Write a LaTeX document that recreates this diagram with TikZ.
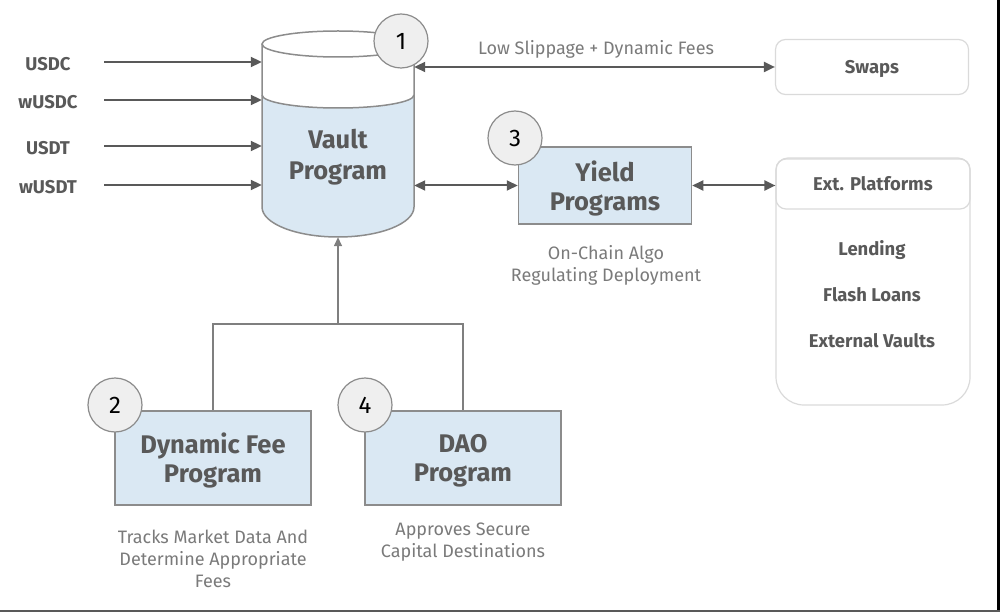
\documentclass[tikz,border=0pt]{standalone}
\usepackage{fontspec}
\setmainfont{Fira Sans}
\usetikzlibrary{arrows.meta}
\definecolor{ink}{HTML}{595959}
\definecolor{soft}{HTML}{7A7A7A}
\definecolor{wire}{HTML}{7F7F7F}
\definecolor{water}{HTML}{DAE8F3}
\definecolor{rim}{HTML}{8C8C8C}
\definecolor{pale}{HTML}{DADADA}
\definecolor{disc}{HTML}{EFEFEF}

\begin{document}
\begin{tikzpicture}[x=1pt,y=-1pt]
\tikzstyle{prog}=[draw=rim, line width=1.5pt, fill=water, minimum width=196pt, minimum height=94pt, align=center, text=ink, font=\bfseries\fontsize{25.5}{29}\selectfont]
\tikzstyle{num}=[circle, draw=rim, fill=disc, line width=1.2pt, minimum size=54pt, inner sep=0pt, font=\fontsize{24}{24}\selectfont]
\tikzstyle{tag}=[text=ink, font=\bfseries\fontsize{18.5}{18.5}\selectfont]
\tikzstyle{note}=[text=soft, align=center, font=\fontsize{18}{22}\selectfont]
\tikzstyle{flow}=[draw=ink, line width=2pt, -{Triangle[length=11pt,width=10pt]}]
\tikzstyle{both}=[draw=ink, line width=2pt, {Triangle[length=11pt,width=10pt]}-{Triangle[length=11pt,width=10pt]}]
\tikzstyle{link}=[draw=wire, line width=1.5pt]

\useasboundingbox (0,0) rectangle (1000,612);

% Vault
\fill[water] (262,95) arc[start angle=180, end angle=0, x radius=76, y radius=13]
  -- (414,207) arc[start angle=0, end angle=180, x radius=76, y radius=30] -- cycle;
\draw[rim, line width=1.5pt] (262,95) arc[start angle=180, end angle=0, x radius=76, y radius=13];
\draw[rim, line width=1.5pt] (262,44) -- (262,207) arc[start angle=180, end angle=0, x radius=76, y radius=30] -- (414,44);
\draw[rim, line width=1.5pt] (338,44) ellipse [x radius=76, y radius=13];
\node at (338,134) [minimum width=152pt, minimum height=206pt, inner sep=0pt] (vault) {};
\node at (338,157) [align=center, text=ink, font=\bfseries\fontsize{25.5}{31}\selectfont] (vault_txt) {Vault\\Program};

% Inputs
\foreach \name/\yy [count=\i] in {USDC/62, wUSDC/100, USDT/146, wUSDT/185} {
  \node at (48, \yy+2) [tag] (coin_\i) {\name};
  \coordinate (in_\i) at (104, \yy);
  \draw[flow] (in_\i) -- (vault.west |- in_\i);
}

% Swaps
\node at (872,67) [draw=pale, line width=1.2pt, rounded corners=10pt, minimum width=193pt, minimum height=55pt, tag, text depth=0pt] (swaps) {Swaps};
\draw[both] (vault.east |- swaps) -- (swaps.west);
\node at (596,49) [note] (swap_txt) {Low Slippage + Dynamic Fees};

% Yield
\node at (605,185.5) [prog, minimum width=173pt, minimum height=77pt, text depth=0pt] (yield) {Yield\\Programs};
\node at (606,265) [note] (yield_txt) {On-Chain Algo\\Regulating Deployment};

% Ext. platforms
\draw[pale, line width=1.2pt] (776,280) [rounded corners=12pt] -- (776,158) -- (970,158) -- (970,280)
  [rounded corners=28pt] -- (970,405) -- (776,405) -- (776,280);
\node at (873,184) [draw=pale, line width=1.2pt, rounded corners=10pt, minimum width=194pt, minimum height=50pt, tag] (ext) {Ext. Platforms};
\foreach \item/\yy [count=\i] in {Lending/250, Flash Loans/295, External Vaults/341}
  \node at (872,\yy) [tag] (use_\i) {\item};
\draw[both] (vault.east |- yield) -- (yield.west);
\draw[both] (yield.east) -- (ext.west |- yield);

% Dynamic fee + DAO
\node at (213,458) [prog, text depth=0pt] (dyn) {Dynamic Fee\\Program};
\node at (463,458) [prog, text depth=0pt] (dao) {DAO\\Program};
\node at (213,559) [note] (dyn_txt) {Tracks Market Data And\\Determine Appropriate\\Fees};
\node at (463,542) [note] (dao_txt) {Approves Secure\\Capital Destinations};

\coordinate (bus) at (338,324);
\draw[link] (dyn.north) |- (bus) -| (dao.north);
\draw[link, -{Triangle[length=9pt,width=8pt]}] (bus) -- (vault.south);

% Numbers
\node at (401,41) [num] (n1) {1};
\node at (115,405) [num] (n2) {2};
\node at (515,138) [num] (n3) {3};
\node at (365,405) [num] (n4) {4};

% Frame
\draw[black, line width=2.5pt] (998.5,0) -- (998.5,612);
\draw[ink, line width=2pt] (0,611) -- (1000,611);
\end{tikzpicture}
\end{document}
